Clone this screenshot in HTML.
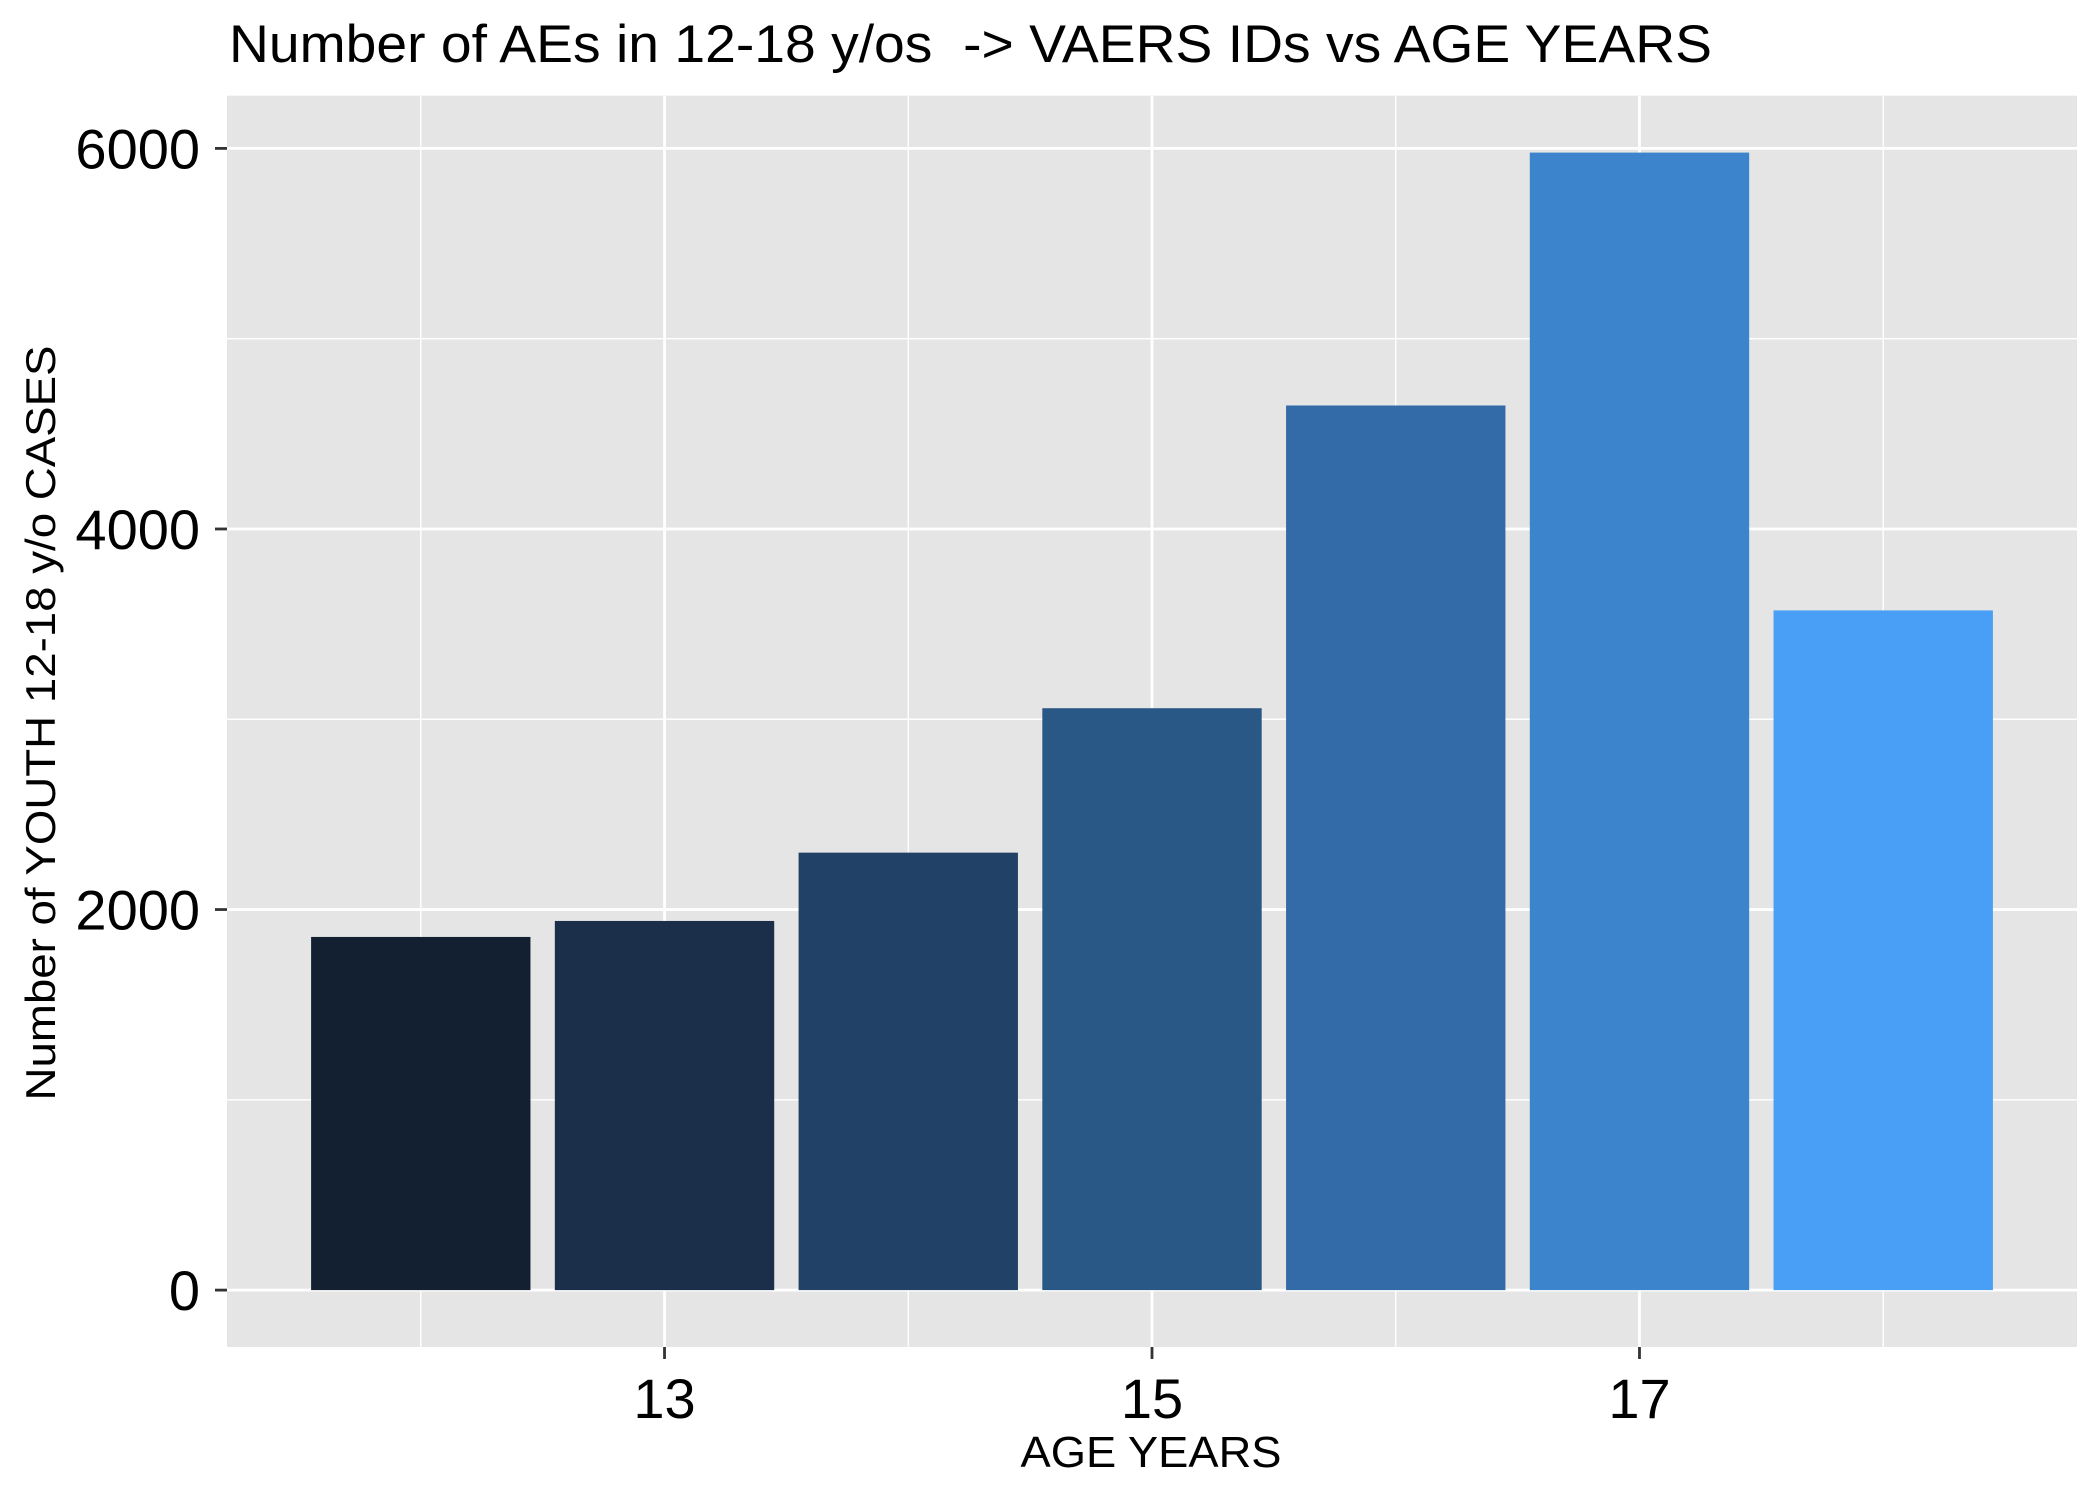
<!DOCTYPE html>
<html><head><meta charset="utf-8"><style>
html,body{margin:0;padding:0;background:#fff;}
svg{display:block;font-family:"Liberation Sans",Arial,sans-serif;}
</style></head><body>
<svg id="chart" width="2099" height="1499" viewBox="0 0 2099 1499">
<text x="229" y="62" font-size="53" fill="#000" textLength="1483" lengthAdjust="spacingAndGlyphs" xml:space="preserve">Number of AEs in 12-18 y/os  -&gt; VAERS IDs vs AGE YEARS</text>
<rect x="227" y="95.7" width="1850" height="1251.3" fill="#e5e5e5"/>
<g id="grid"></g>
<g id="bars"></g>
<g id="axes"></g>
<text x="1151" y="1467" font-size="44" text-anchor="middle" fill="#000" textLength="261" lengthAdjust="spacingAndGlyphs">AGE YEARS</text>
<text transform="translate(55,723) rotate(-90)" font-size="42" text-anchor="middle" fill="#000" textLength="755" lengthAdjust="spacingAndGlyphs">Number of YOUTH 12-18 y/o CASES</text>
</svg>
<script>
const categories = [12, 13, 14, 15, 16, 17, 18];
const counts = [1856, 1940, 2299, 3058, 4649, 5978, 3572];
const barColors = ["#122031", "#1b2f4b", "#214266", "#2a5886", "#336ba9", "#3c84cc", "#489ff5"];
const yTicks = [0, 2000, 4000, 6000];
const yMinor = [1000, 3000, 5000];
const xTicks = [13, 15, 17];
const xMinor = [12, 14, 16, 18];

const NS = "http://www.w3.org/2000/svg";
const x0 = 227, x1 = 2077, yTop = 95.7, yBot = 1347;
const xMin = 11.205, xMax = 18.795, yMinV = -299, yMaxV = 6277;
function xs(v){ return x0 + (v - xMin) / (xMax - xMin) * (x1 - x0); }
function ys(v){ return yBot - (v - yMinV) / (yMaxV - yMinV) * (yBot - yTop); }
function mk(tag, attrs, parent){ const e = document.createElementNS(NS, tag); for (const k in attrs) e.setAttribute(k, attrs[k]); parent.appendChild(e); return e; }
const grid = document.getElementById('grid'), bars = document.getElementById('bars'), axes = document.getElementById('axes');

yMinor.forEach(v => {
  const l = mk('line', {x1: x0, x2: x1, y1: ys(v), y2: ys(v), stroke: '#fff', 'stroke-width': 1.4}, grid);
  
  
});
xMinor.forEach(v => {
  const l = mk('line', {x1: xs(v), x2: xs(v), y1: yTop, y2: yBot, stroke: '#fff', 'stroke-width': 1.4}, grid);
  
  
});
yTicks.forEach(v => {
  const l = mk('line', {x1: x0, x2: x1, y1: ys(v), y2: ys(v), stroke: '#fff', 'stroke-width': 2.8}, grid);
  
  
  const t = mk('line', {x1: x0 - 12, x2: x0, y1: ys(v), y2: ys(v), stroke: '#333', 'stroke-width': 2.8}, axes);
  
  
  const tx = mk('text', {x: x0 - 27, y: ys(v) + 20, 'font-size': 56, 'text-anchor': 'end', fill: '#000'}, axes);
  tx.textContent = v;
  
  
});
xTicks.forEach(v => {
  const l = mk('line', {x1: xs(v), x2: xs(v), y1: yTop, y2: yBot, stroke: '#fff', 'stroke-width': 2.8}, grid);
  
  
  const t = mk('line', {x1: xs(v), x2: xs(v), y1: yBot, y2: yBot + 12, stroke: '#333', 'stroke-width': 2.8}, axes);
  
  
  const tx = mk('text', {x: xs(v), y: 1418, 'font-size': 56, 'text-anchor': 'middle', fill: '#000'}, axes);
  tx.textContent = v;
  
  
});
categories.forEach((c, i) => {
  const left = xs(c - 0.45), right = xs(c + 0.45);
  const b = mk('rect', {x: left, y: ys(counts[i]), width: right - left, height: ys(0) - ys(counts[i]), fill: barColors[i]}, bars);
  
  
});
</script>
</body></html>
